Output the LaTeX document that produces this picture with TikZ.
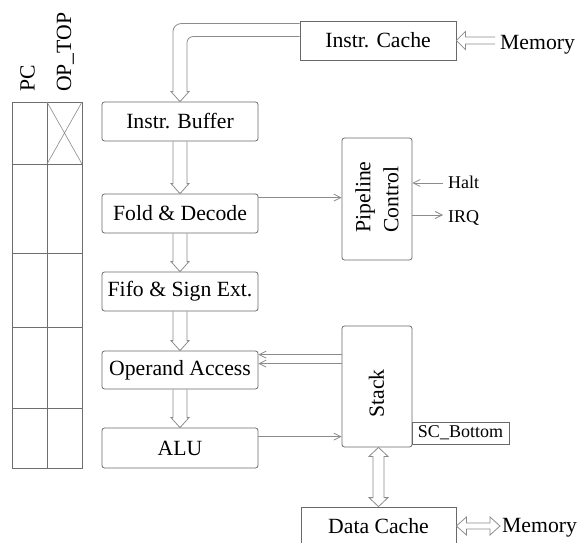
\documentclass[tikz,border=0pt]{standalone}
\usepackage{fontspec}
\setmainfont{Liberation Serif}
\usetikzlibrary{arrows.meta,calc}
\definecolor{boxc}{RGB}{105,105,105}
\definecolor{arrc}{RGB}{140,140,140}
\definecolor{tabc}{RGB}{110,110,110}
\begin{document}
\begin{tikzpicture}[x=1pt,y=-1pt,
  every node/.style={font=\fontsize{21.7}{26}\selectfont, text=black},
  stage/.style={draw=boxc, line width=0.8pt, rounded corners=2.5pt, minimum width=156pt, minimum height=39pt, inner sep=0pt},
  sqbox/.style={draw=boxc, line width=0.8pt, minimum width=156pt, minimum height=39pt, inner sep=0pt},
  lbl/.style={inner sep=0pt},
  small/.style={font=\fontsize{18}{22}\selectfont},
  wire/.style={draw=arrc, line width=0.8pt, -{Straight Barb[length=7pt,width=7pt]}},
  hol/.style={draw=arrc, line width=0.8pt, line join=miter},
  vdown/.style={to path={([xshift=-7pt]\tikztostart) -- ([xshift=-7pt,yshift=10pt]\tikztotarget) -- ([xshift=-9pt,yshift=10pt]\tikztotarget) -- (\tikztotarget) -- ([xshift=9pt,yshift=10pt]\tikztotarget) -- ([xshift=7pt,yshift=10pt]\tikztotarget) -- ([xshift=7pt]\tikztostart)}},
  vboth/.style={to path={([xshift=-5.5pt,yshift=-9pt]\tikztostart) -- ([xshift=-9.5pt,yshift=-9pt]\tikztostart) -- (\tikztostart) -- ([xshift=9.5pt,yshift=-9pt]\tikztostart) -- ([xshift=5.5pt,yshift=-9pt]\tikztostart) -- ([xshift=5.5pt,yshift=9pt]\tikztotarget) -- ([xshift=9.5pt,yshift=9pt]\tikztotarget) -- (\tikztotarget) -- ([xshift=-9.5pt,yshift=9pt]\tikztotarget) -- ([xshift=-5.5pt,yshift=9pt]\tikztotarget) -- cycle}},
  hboth/.style={to path={([xshift=10pt,yshift=3pt]\tikztostart) -- ([xshift=10pt,yshift=9pt]\tikztostart) -- (\tikztostart) -- ([xshift=10pt,yshift=-9pt]\tikztostart) -- ([xshift=10pt,yshift=-3pt]\tikztostart) -- ([xshift=-10pt,yshift=-3pt]\tikztotarget) -- ([xshift=-10pt,yshift=-9pt]\tikztotarget) -- (\tikztotarget) -- ([xshift=-10pt,yshift=9pt]\tikztotarget) -- ([xshift=-10pt,yshift=3pt]\tikztotarget) -- cycle}},
  hleft/.style={to path={([yshift=3.5pt]\tikztostart) -- ([xshift=9pt,yshift=3.5pt]\tikztotarget) -- ([xshift=9pt,yshift=9pt]\tikztotarget) -- (\tikztotarget) -- ([xshift=9pt,yshift=-9pt]\tikztotarget) -- ([xshift=9pt,yshift=-3.5pt]\tikztotarget) -- ([yshift=-3.5pt]\tikztostart)}}
]
\useasboundingbox (0,0) rectangle (587,543);

% register table
\draw[tabc, line width=0.8pt] (12,102) rectangle (82,468);
\draw[tabc, line width=0.8pt] (47,102) -- (47,468);
\foreach \yy in {164,253,327,408} \draw[tabc, line width=0.8pt] (12,\yy) -- (82,\yy);
\draw[arrc, line width=0.6pt] (47,102) -- (82,164) (82,102) -- (47,164);
\node[lbl, rotate=90, anchor=base west] (pclbl) at (34.5,92) {PC};
\node[lbl, rotate=90, anchor=base west] (oplbl) at (71,92) {OP\_TOP};

% pipeline stages
\node[stage] (buf) at (180,121.5) {Instr. Buffer};
\node[stage] (fold) at (180,213.5) {Fold \& Decode};
\node[stage] (fifo) at (180,291.5) {Fifo \& Sign Ext.};
\node[stage, minimum height=38pt] (opacc) at (180,370) {Operand Access};
\node[stage, minimum height=40pt] (alu) at (180,448) {ALU};

% right side blocks
\node[sqbox] (icache) at (378,40.5) {Instr. Cache};
\node[sqbox, minimum width=155pt, minimum height=38pt] (dcache) at (378.5,526) {Data Cache};
\node[stage, minimum width=70pt, minimum height=122pt] (pctl) at (377,199) {};
\node[lbl, rotate=90, align=left, font=\fontsize{21.7}{28}\selectfont] (pctltxt) at (377,197) {Pipeline\\Control};
\node[stage, minimum width=70pt, minimum height=121pt] (stack) at (377,386.5) {};
\node[lbl, rotate=90] (stacktxt) at (376.5,393.5) {Stack};
\node[sqbox, small, minimum width=97pt, minimum height=22pt] (scb) at (460.5,433) {SC\_Bottom};

% labels
\node[lbl, anchor=base west] (mem1) at (500,50) {Memory};
\node[lbl, anchor=base west] (mem2) at (502,532) {Memory};
\node[lbl, small, anchor=base west] (halt) at (448,188) {Halt};
\node[lbl, small, anchor=base west] (irq) at (448,222) {IRQ};

% hollow arrows down the pipeline
\draw[hol] (buf.south) to[vdown] (fold.north);
\draw[hol] (fold.south) to[vdown] (fifo.north);
\draw[hol] (fifo.south) to[vdown] (opacc.north);
\draw[hol] (opacc.south) to[vdown] (alu.north);

% instruction cache to buffer
\draw[hol, rounded corners=8pt] ([yshift=-3pt]icache.north west) -| ([xshift=-7pt,yshift=10pt]buf.north);
\draw[hol, rounded corners=6pt] ([yshift=-16pt]icache.north west) -| ([xshift=7pt,yshift=10pt]buf.north);
\draw[hol] ([xshift=-7pt,yshift=10pt]buf.north) -- ([xshift=-9pt,yshift=10pt]buf.north) -- (buf.north) -- ([xshift=9pt,yshift=10pt]buf.north) -- ([xshift=7pt,yshift=10pt]buf.north);

% memory connections
\coordinate (imtail) at (495,40.5);
\draw[hol] (imtail) to[hleft] (icache.east);
\coordinate (dmtip) at (500,526);
\draw[hol] (dcache.east) to[hboth] (dmtip);
\draw[hol] (dcache.north |- stack.south) to[vboth] (dcache.north);

% thin wires
\coordinate (f1) at ([yshift=-4pt]fold.north east);
\draw[wire] (f1) -- (f1 -| pctl.west);
\coordinate (o1) at ([yshift=-4pt]opacc.north east);
\coordinate (o2) at ([yshift=-13pt]opacc.north east);
\draw[wire] (o1 -| stack.west) -- (o1);
\draw[wire] (o2 -| stack.west) -- (o2);
\coordinate (a1) at ([yshift=-9pt]alu.north east);
\draw[wire] (a1) -- (a1 -| stack.west);
\coordinate (hs) at (443,183);
\draw[wire] (hs) -- (hs -| pctl.east);
\coordinate (ie) at (443,215);
\draw[wire] (ie -| pctl.east) -- (ie);
\end{tikzpicture}
\end{document}
